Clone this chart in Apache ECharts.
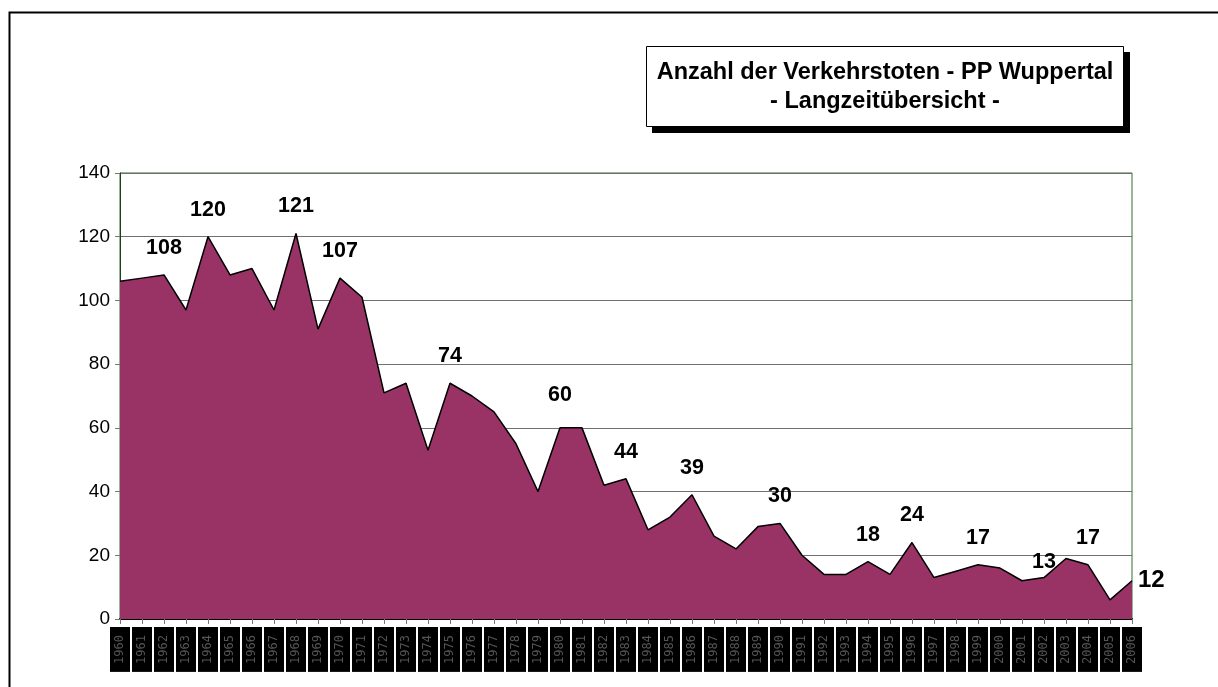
<!DOCTYPE html>
<html>
<head>
<meta charset="utf-8">
<script src="https://cdn.jsdelivr.net/npm/echarts@6/dist/echarts.min.js"></script>
<style>
  html, body { margin: 0; padding: 0; background: #fff; }
  #chart { width: 1218px; height: 687px; }
</style>
</head>
<body>
<div id="chart"></div>
<script>
var years = [];
for (var y = 1960; y <= 2006; y++) {
  years.push(String(y));
}
// Verkehrstote pro Jahr
var values = [
  106, 107, 108, 97, 120, 108, 110, 97, 121, 91,
  107, 101, 71, 74, 53, 74, 70, 65, 55, 40,
  60, 60, 42, 44, 28, 32, 39, 26, 22, 29,
  30, 20, 14, 14, 18, 14, 24, 13, 15, 17,
  16, 12, 13, 19, 17, 6, 12
];
// Jahre mit Beschriftung
var labelYears = ["1962", "1964", "1968", "1970", "1975", "1980", "1983", "1986",
  "1990", "1994", "1996", "1999", "2002", "2004"];
var lastYear = "2006";
var yTicks = [0, 20, 40, 60, 80, 100, 120, 140];

var seriesData = values.map(function (v, i) {
  var item = { value: v };
  if (labelYears.indexOf(years[i]) > -1) {
    item.label = { show: true };
    if (years[i] == "1980") item.label.distance = 22;
    if (years[i] == "2002") item.label.distance = 5;
  } else if (years[i] == lastYear) {
    item.label = { show: true, position: "right", fontSize: 24, distance: 6 };
  }
  return item;
});

var chart = echarts.init(document.getElementById("chart"));
var option = {
  animation: false,
  backgroundColor: "#fff",
  textStyle: { fontFamily: "Liberation Sans, Arial, sans-serif" },
  title: {
    text: "Anzahl der Verkehrstoten - PP Wuppertal\n- Langzeitübersicht -",
    left: 885,
    top: 58,
    padding: 0,
    textAlign: "center",
    z: 10,
    textStyle: {
      fontFamily: "Liberation Sans, Arial, sans-serif",
      fontSize: 23.5,
      fontWeight: "bold",
      color: "#000",
      lineHeight: 29,
      align: "center"
    }
  },
  graphic: [
    {
      type: "rect",
      shape: { x: 9.5, y: 12.5, width: 1400, height: 900 },
      style: { fill: "none", stroke: "#000", lineWidth: 2 },
      silent: true,
      z: -1
    },
    {
      type: "rect",
      shape: { x: 652, y: 52, width: 478, height: 81 },
      style: { fill: "#000" },
      silent: true,
      z: 1
    },
    {
      type: "rect",
      shape: { x: 646.5, y: 46.5, width: 477, height: 80 },
      style: { fill: "#fff", stroke: "#000", lineWidth: 1 },
      silent: true,
      z: 2
    }
  ],
  grid: {
    left: 120,
    right: 86,
    top: 173,
    bottom: 68,
    show: true,
    borderColor: "#2f6e2f",
    borderWidth: 1
  },
  xAxis: {
    type: "category",
    data: years,
    boundaryGap: false,
    axisLine: { lineStyle: { color: "#000", width: 2 } },
    axisTick: { show: true, length: 5, alignWithLabel: true, lineStyle: { color: "#777" } },
    axisLabel: {
      interval: 0,
      rotate: 90,
      margin: 8,
      fontSize: 12,
      color: "#555",
      backgroundColor: "#000",
      padding: [4, 8, 4, 8],
      fontFamily: "DejaVu Sans Mono, monospace"
    },
    splitLine: { show: false }
  },
  yAxis: {
    type: "value",
    min: 0,
    max: 140,
    interval: 20,
    axisLine: { show: true, lineStyle: { color: "#1f3f1f", width: 1 } },
    axisTick: { show: true, length: 5, lineStyle: { color: "#777" } },
    axisLabel: {
      fontSize: 19,
      color: "#000",
      margin: 10,
      formatter: function (v) {
        return yTicks.indexOf(v) > -1 ? String(v) : "";
      }
    },
    splitLine: { show: true, lineStyle: { color: "#707070", width: 1 } }
  },
  series: [
    {
      type: "line",
      data: seriesData,
      symbol: "circle",
      symbolSize: 0,
      showSymbol: true,
      lineStyle: { color: "#000", width: 1.5 },
      itemStyle: { color: "#000" },
      areaStyle: { color: "#993366", opacity: 1 },
      label: {
        show: false,
        position: "top",
        distance: 16,
        fontSize: 21.5,
        fontWeight: "bold",
        color: "#000"
      }
    }
  ]
};
chart.setOption(option);
</script>
</body>
</html>
